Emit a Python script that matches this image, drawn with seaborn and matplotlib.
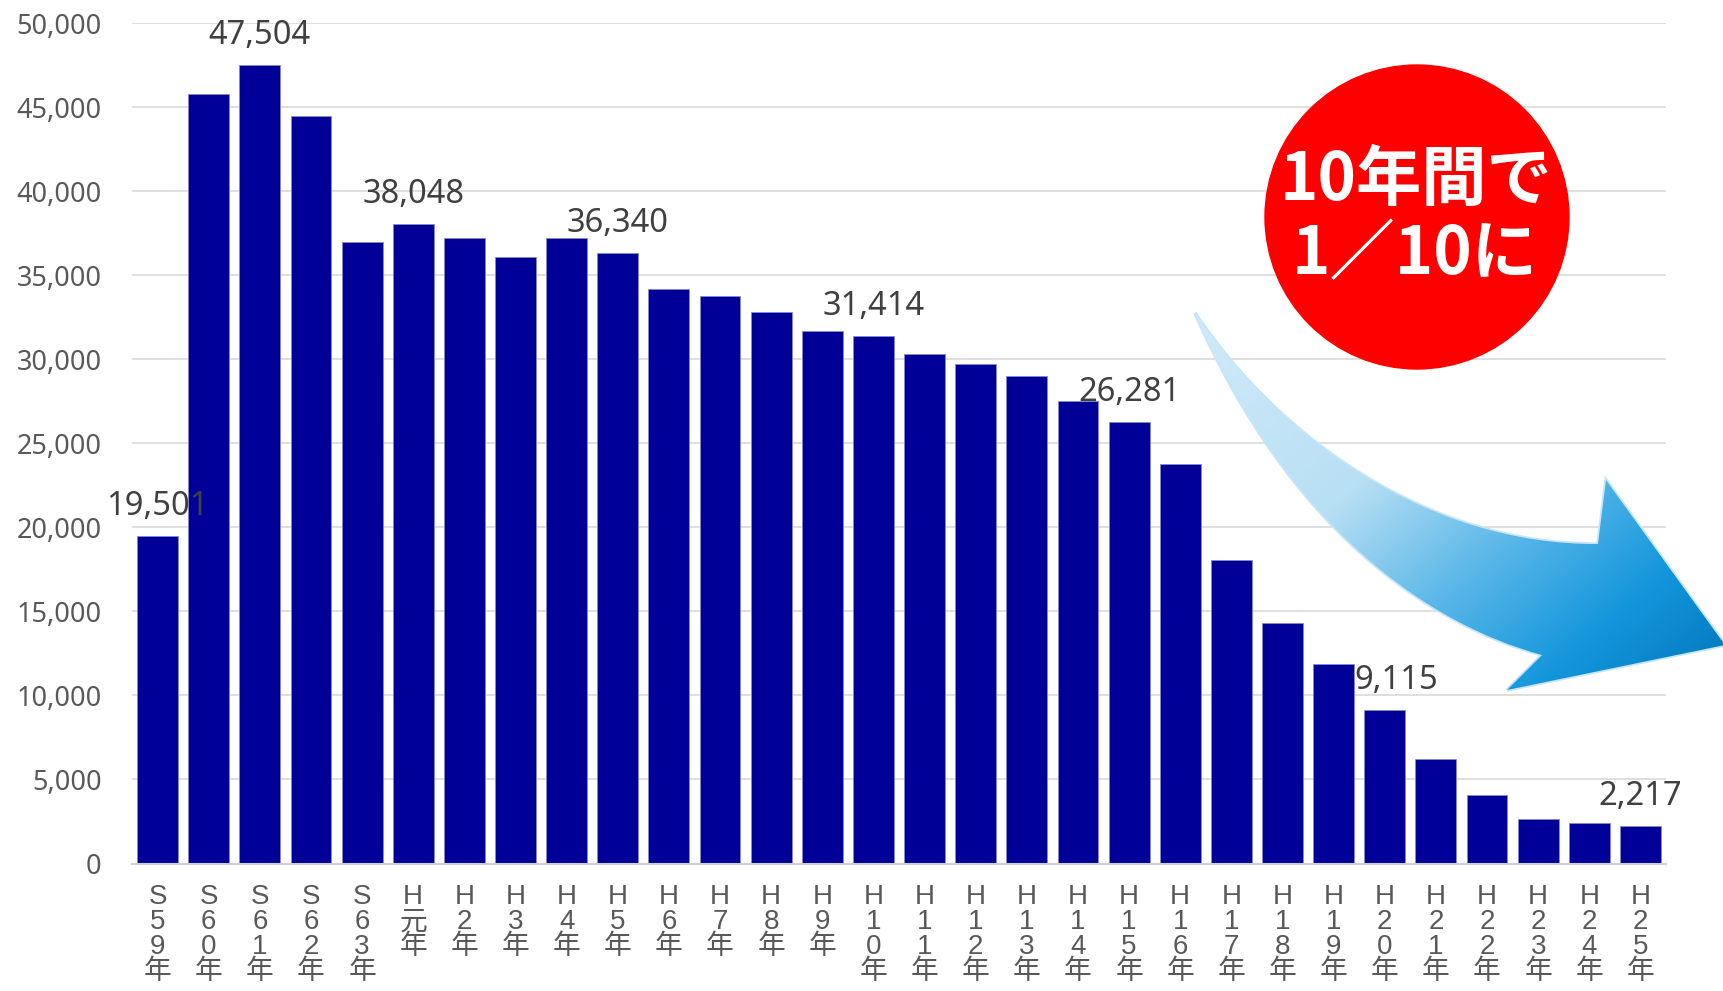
import numpy as np
import pandas as pd
import matplotlib
matplotlib.use('Agg')
import matplotlib.pyplot as plt
import seaborn as sns
from matplotlib.path import Path
from matplotlib.patches import PathPatch, Circle
from matplotlib.colors import LinearSegmentedColormap
from matplotlib.ticker import FuncFormatter

# data
years = ['S59年', 'S60年', 'S61年', 'S62年', 'S63年', 'H元年',
         'H2年', 'H3年', 'H4年', 'H5年', 'H6年', 'H7年', 'H8年', 'H9年',
         'H10年', 'H11年', 'H12年', 'H13年', 'H14年', 'H15年', 'H16年',
         'H17年', 'H18年', 'H19年', 'H20年', 'H21年', 'H22年', 'H23年',
         'H24年', 'H25年']
counts = [19501, 45800, 47504, 44500, 37000, 38048,
          37200, 36100, 37250, 36340, 34200, 33800, 32800, 31700,
          31414, 30300, 29700, 29000, 27550, 26281, 23750,
          18050, 14300, 11900, 9115, 6200, 4080, 2630,
          2390, 2217]
labeled_years = ['S59年', 'S61年', 'H元年', 'H5年', 'H10年', 'H15年', 'H20年', 'H25年']
badge_lines = ['10年間で', '1／10に']

W, H = 1723, 991

sns.set_style('white')
plt.rcParams['font.family'] = ['Noto Sans', 'Noto Sans CJK JP', 'DejaVu Sans']

df = pd.DataFrame({'year': years, 'count': counts})

fig = plt.figure(figsize=(W / 100, H / 100), dpi=100)
ax = fig.add_axes([132 / W, 1 - 863.5 / H, (1666 - 132) / W, (863.5 - 23.3) / H])

sns.barplot(data=df, x='year', y='count', color='#000099', saturation=1,
            width=0.8, edgecolor='#8888cc', linewidth=0.6, ax=ax)

ax.set_xlim(-0.5, len(years) - 0.5)
ax.set_ylim(0, 50000)
ax.set_yticks(range(0, 50001, 5000))
ax.yaxis.set_major_formatter(FuncFormatter(lambda v, p: f'{v:,.0f}'))
ax.grid(axis='y', color='#d9d9d9', lw=1.2)
ax.set_axisbelow(True)
for s in ['left', 'right', 'top']:
    ax.spines[s].set_visible(False)
ax.spines['bottom'].set_color('#cfcfd8')
ax.spines['bottom'].set_linewidth(1.5)
ax.set_xlabel('')
ax.set_ylabel('')

ax.tick_params(axis='y', length=0, pad=22, labelsize=19.5, labelcolor='#595959')
ax.tick_params(axis='x', length=0, pad=15)
ax.set_xticks(range(len(years)))
ax.set_xticklabels(['\n'.join(y) for y in years], fontsize=20, color='#595959',
                   family=['Liberation Sans', 'Noto Sans CJK JP'], linespacing=0.95, va='top')

for i, (y, v) in enumerate(zip(years, counts)):
    if y in labeled_years:
        dx = 8 if y == 'H20年' else 0
        ax.annotate(f'{v:,}', (i, v), xytext=(dx, 15), textcoords='offset points',
                    ha='center', va='baseline', fontsize=23.5, color='#404040')

# overlay in pixel coordinates for the badge and arrow
ov = fig.add_axes([0, 0, 1, 1])
ov.set_xlim(0, W)
ov.set_ylim(H, 0)
ov.axis('off')
ov.set_zorder(5)

verts = [(1195, 313), (1280, 440), (1430, 545), (1598, 544),
         (1606, 480), (1725, 645), (1507, 690), (1542, 655),
         (1430, 625), (1290, 530), (1195, 313), (1195, 313)]
codes = [Path.MOVETO, Path.CURVE4, Path.CURVE4, Path.CURVE4,
         Path.LINETO, Path.LINETO, Path.LINETO, Path.LINETO,
         Path.CURVE4, Path.CURVE4, Path.CURVE4, Path.CLOSEPOLY]
arrow = PathPatch(Path(verts, codes), facecolor='none', edgecolor='#c6e5f8', lw=2.5)
ov.add_patch(arrow)

cmap = LinearSegmentedColormap.from_list('arrow', [
    (0.0, '#d2ebfa'), (0.38, '#b8dff4'), (0.6, '#5ab7e8'), (0.8, '#1496dc'), (1.0, '#0074ba')])
gx, gy = np.meshgrid(np.linspace(0, 1, 300), np.linspace(0, 1, 220))
grad = 0.55 * gx + 0.45 * gy
im = ov.imshow(grad, extent=(1190, 1723, 695, 305), origin='upper', cmap=cmap,
               aspect='auto', zorder=1)
im.set_clip_path(arrow)
ov.set_xlim(0, W)
ov.set_ylim(H, 0)

ov.add_patch(Circle((1417, 217), 152, color='#ff0000', zorder=3))
ov.text(1416, 180, badge_lines[0], ha='center', va='center', fontsize=47,
        weight='bold', color='white', family=['Noto Sans CJK JP'], zorder=4)
ov.text(1415, 255, badge_lines[1], ha='center', va='center', fontsize=47,
        weight='bold', color='white', family=['Noto Sans CJK JP'], zorder=4)

fig.savefig('out.png', dpi=100)
